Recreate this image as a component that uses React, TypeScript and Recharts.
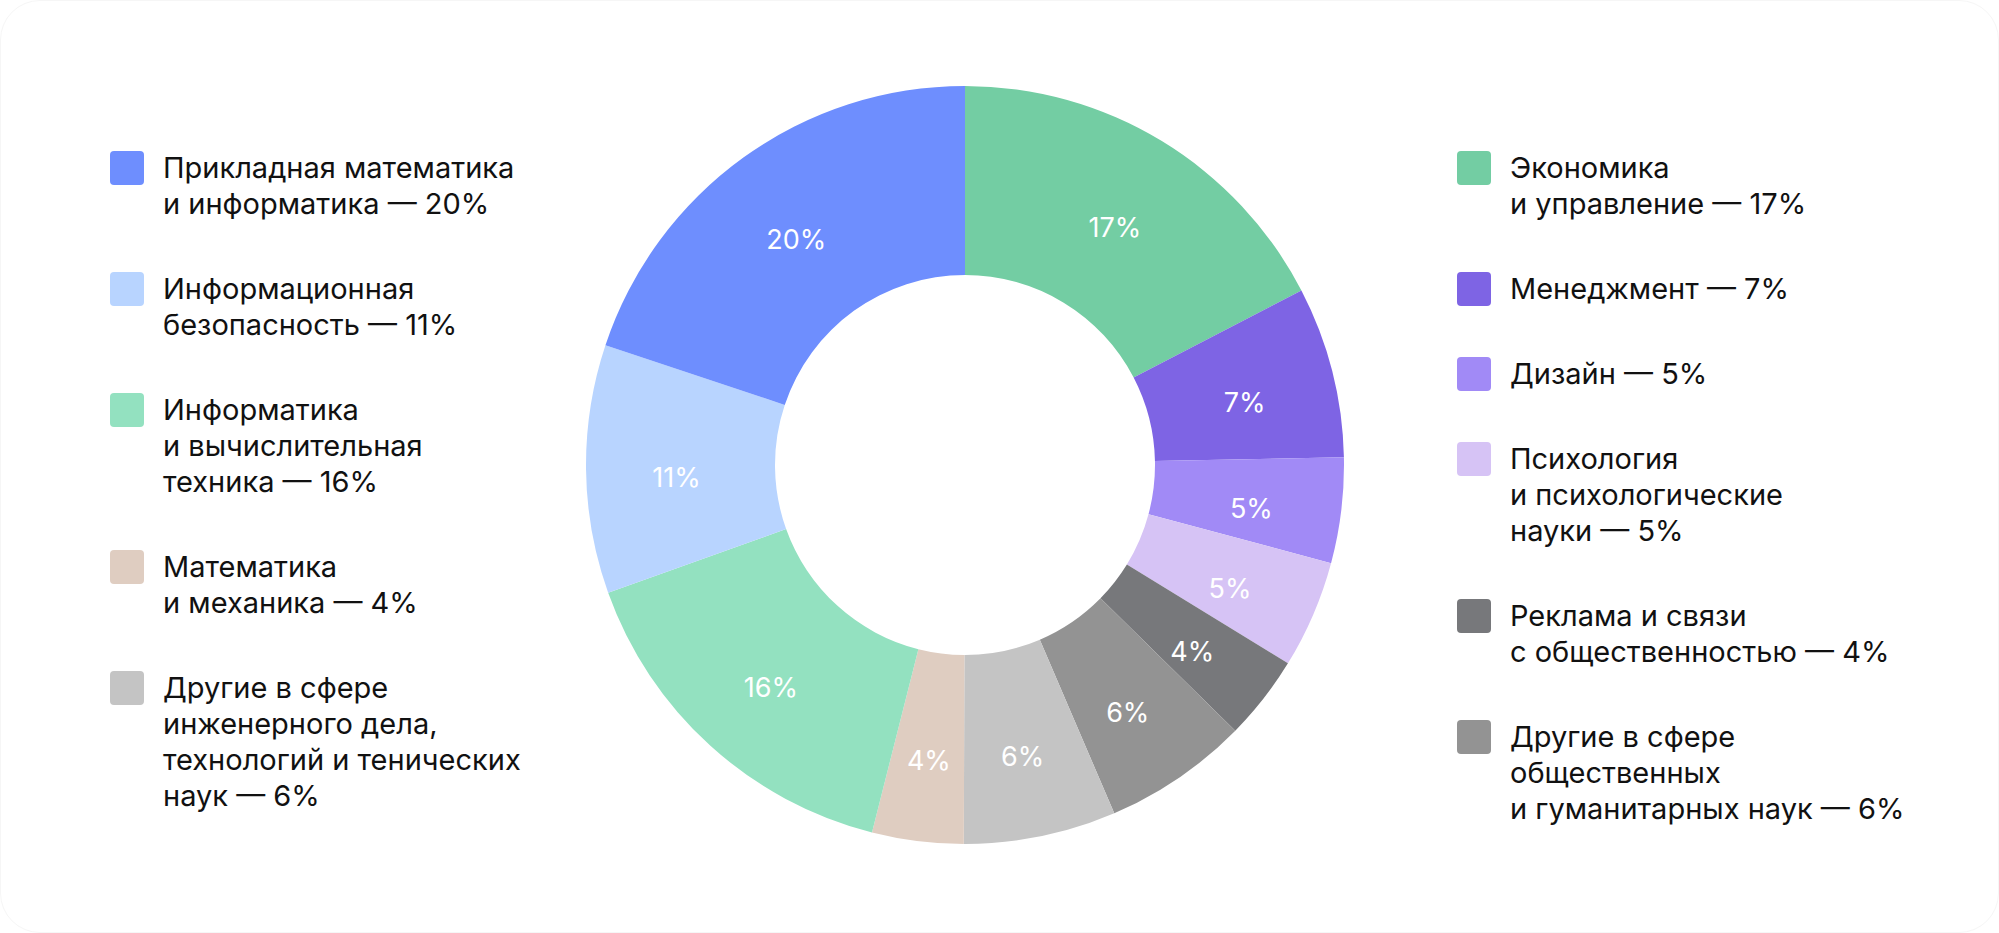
import { Cell, Pie, PieChart } from 'recharts'

// порядок секторов: по часовой стрелке от 12 часов
const NAZVANIYA = [
  'Экономика\nи управление',
  'Менеджмент',
  'Дизайн',
  'Психология\nи психологические\nнауки',
  'Реклама и связи\nс общественностью',
  'Другие в сфере\nобщественных\nи гуманитарных наук',
  'Другие в сфере\nинженерного дела,\nтехнологий и тенических\nнаук',
  'Математика\nи механика',
  'Информатика\nи вычислительная\nтехника',
  'Информационная\nбезопасность',
  'Прикладная математика\nи информатика',
]

// доли, считанные по углам секторов
const DOLI = [17.4, 7.3, 4.5, 4.6, 3.6, 6.2, 6.5, 3.9, 15.6, 10.6, 19.9]

// подписи процентов как на картинке
const PODPISI = ['17%', '7%', '5%', '5%', '4%', '6%', '6%', '4%', '16%', '11%', '20%']

const TSVETA = [
  '#73cda3',
  '#7e64e4',
  '#a18af6',
  '#d6c3f5',
  '#77787b',
  '#939393',
  '#c4c4c4',
  '#dfcdc1',
  '#93e1c0',
  '#b8d4ff',
  '#6e8efe',
]

// какие пункты в левой и правой колонке легенды
const LEVAYA = [10, 9, 8, 7, 6]
const PRAVAYA = [0, 1, 2, 3, 4, 5]

const RADIAN = Math.PI / 180
const SHRIFT = 'Inter, "Noto Sans", sans-serif'

const dannye = NAZVANIYA.map((n, i) => ({
  name: n,
  value: DOLI[i],
  label: PODPISI[i],
}))

function Podpis(props: any) {
  const { cx, cy, midAngle, innerRadius, outerRadius, index } = props
  // подпись чуть дальше середины кольца и немного ниже, как в макете
  const r = innerRadius + (outerRadius - innerRadius) / 2 + 4
  const x = cx + r * Math.cos(-midAngle * RADIAN)
  const y = cy + r * Math.sin(-midAngle * RADIAN) + 9
  return (
    <text
      x={x}
      y={y}
      fill="#fff"
      textAnchor="middle"
      dominantBaseline="central"
      style={{ fontSize: 27, fontFamily: SHRIFT }}
    >
      {PODPISI[index]}
    </text>
  )
}

function Kolonka({ ids, left }: { ids: number[]; left: number }) {
  return (
    <div style={{ position: 'absolute', left, top: 150 }}>
      {ids.map((i) => (
        <div key={i} style={{ display: 'flex', alignItems: 'flex-start', marginBottom: 49 }}>
          <div
            style={{
              width: 34,
              height: 34,
              borderRadius: 4,
              background: TSVETA[i],
              flexShrink: 0,
              marginTop: 1,
            }}
          />
          <div
            style={{
              marginLeft: 19,
              whiteSpace: 'pre-line',
              fontSize: 29,
              lineHeight: '36px',
              color: '#111',
              fontFamily: SHRIFT,
            }}
          >
            {`${NAZVANIYA[i]} — ${PODPISI[i]}`}
          </div>
        </div>
      ))}
    </div>
  )
}

export default function App() {
  return (
    <div
      style={{
        position: 'absolute',
        left: 0,
        top: 0,
        width: 1999,
        height: 933,
        background: '#fff',
        overflow: 'hidden',
      }}
    >
      <div
        style={{
          position: 'absolute',
          inset: 0,
          borderRadius: 40,
          border: '1px solid #f6f6f6',
        }}
      />
      <PieChart
        width={1999}
        height={933}
        margin={{ top: 0, right: 0, bottom: 0, left: 0 }}
        style={{ position: 'absolute', left: 0, top: 0 }}
      >
        <Pie
          data={dannye}
          dataKey="value"
          nameKey="name"
          cx={965}
          cy={465}
          innerRadius={190}
          outerRadius={379}
          startAngle={90}
          endAngle={-270}
          stroke="none"
          label={Podpis}
          labelLine={false}
          isAnimationActive={false}
        >
          {dannye.map((d, i) => (
            <Cell key={d.name} fill={TSVETA[i]} />
          ))}
        </Pie>
      </PieChart>
      <Kolonka ids={LEVAYA} left={110} />
      <Kolonka ids={PRAVAYA} left={1457} />
    </div>
  )
}
